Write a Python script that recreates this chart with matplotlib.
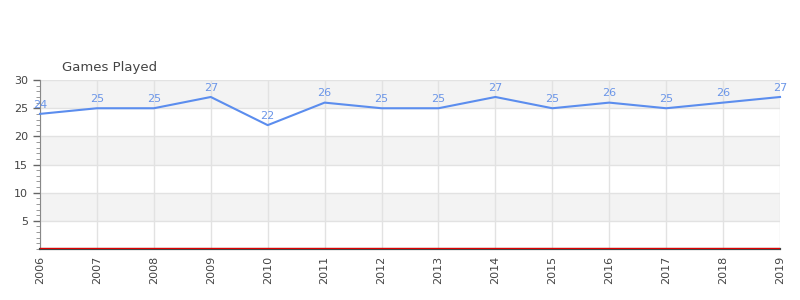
import matplotlib.pyplot as plt
from matplotlib.ticker import MultipleLocator

years = [2006, 2007, 2008, 2009, 2010, 2011, 2012, 2013, 2014, 2015, 2016, 2017, 2018, 2019]
games = [24, 25, 25, 27, 22, 26, 25, 25, 27, 25, 26, 25, 26, 27]

line_color = '#5b8dee'
grid_color = '#e2e2e2'
text_color = '#444444'

fig = plt.figure(figsize=(8, 3), dpi=100)
ax = fig.add_axes([0.05, 0.17, 0.925, 0.563])

# alternating bands
for lo in range(0, 30, 5):
    if (lo // 5) % 2 == 1:
        ax.axhspan(lo, lo + 5, color='#f3f3f3', zorder=0, lw=0)

ax.set_xlim(years[0], years[-1])
ax.set_ylim(0, 30)
ax.set_xticks(years)
ax.set_xticklabels([str(y) for y in years], rotation=90, fontsize=8, color=text_color)
ax.set_yticks([5, 10, 15, 20, 25, 30])
ax.yaxis.set_minor_locator(MultipleLocator(1))
ax.tick_params(axis='y', labelsize=8, colors='#666666', labelcolor=text_color, length=5, width=1)
ax.tick_params(axis='y', which='minor', length=3, colors='#888888')
ax.tick_params(axis='x', length=0, pad=5)
ax.grid(True, color=grid_color, lw=1, zorder=1)
ax.set_axisbelow(True)

for s in ['top', 'right']:
    ax.spines[s].set_visible(False)
ax.spines['left'].set_color('#888888')
ax.spines['bottom'].set_color('#444444')
ax.spines['bottom'].set_linewidth(1.6)

ax.axhline(0.25, color='#e00000', lw=0.9, zorder=3)

ax.plot(years, games, color=line_color, lw=1.5, zorder=4, clip_on=False)
for x, y in zip(years, games):
    ax.annotate(str(y), (x, y), xytext=(0, 3), textcoords='offset points',
                ha='center', va='bottom', fontsize=8, color='#6a95e8', zorder=5,
                annotation_clip=False)

fig.text(0.0775, 0.752, 'Games Played', fontsize=9.5, color=text_color, ha='left', va='bottom')

fig.savefig('out.png', dpi=100)
